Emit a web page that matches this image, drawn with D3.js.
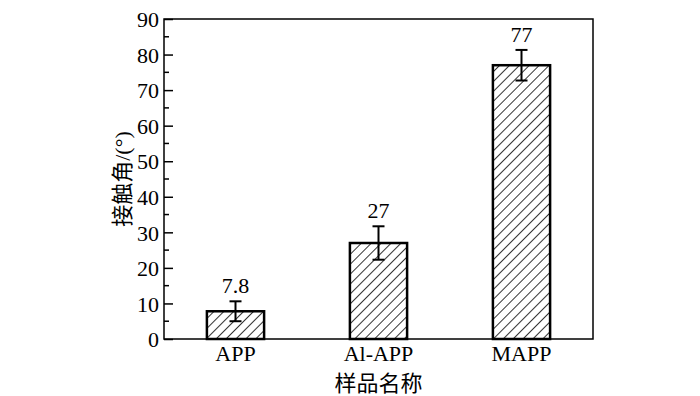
<!DOCTYPE html>
<html>
<head>
<meta charset="utf-8">
<script src="https://cdn.jsdelivr.net/npm/d3@7"></script>
<style>
  body { margin: 0; background: #fff; }
  svg text { font-family: "Liberation Serif", "DejaVu Serif", serif !important; fill: #000; }
  svg text.cjk, svg tspan.cjk { font-family: "Noto Sans CJK SC", sans-serif !important; }
</style>
</head>
<body>
<div id="chart"></div>
<script>
var categories = ["APP", "Al-APP", "MAPP"];
var values = [7.8, 27, 77];
var errors = [2.8, 4.7, 4.3];
var valueLabels = ["7.8", "27", "77"];
var yTicks = [0, 10, 20, 30, 40, 50, 60, 70, 80, 90];

var width = 700, height = 396;
var margin = {top: 19, right: 107, bottom: 57, left: 164};

var svg = d3.select("#chart").append("svg")
    .attr("width", width)
    .attr("height", height);

// hatch pattern for the bars
var defs = svg.append("defs");
defs.append("pattern")
    .attr("id", "hatch")
    .attr("patternUnits", "userSpaceOnUse")
    .attr("width", 7)
    .attr("height", 7)
    .attr("patternTransform", "rotate(45)")
  .append("line")
    .attr("x1", 0).attr("y1", 0)
    .attr("x2", 0).attr("y2", 7)
    .attr("stroke", "#000")
    .attr("stroke-width", 1.6);

var x = d3.scaleBand()
    .domain(categories)
    .range([margin.left, width - margin.right])
    .paddingInner(0.6)
    .paddingOuter(0.3);

var y = d3.scaleLinear()
    .domain([0, 90])
    .range([height - margin.bottom, margin.top]);

var g = svg.append("g");

// bars
g.selectAll("rect.bar")
    .data(values)
  .enter().append("rect")
    .attr("class", "bar")
    .attr("x", function(d, i) { return x(categories[i]); })
    .attr("y", function(d) { return y(d); })
    .attr("width", x.bandwidth())
    .attr("height", function(d) { return y(0) - y(d); })
    .attr("fill", "url(#hatch)")
    .attr("stroke", "#000")
    .attr("stroke-width", 2.5);

// error bars
var cx = function(i) { return x(categories[i]) + x.bandwidth() / 2; };
var eb = g.selectAll("g.err")
    .data(values)
  .enter().append("g")
    .attr("class", "err")
    .attr("stroke", "#000")
    .attr("stroke-width", 2);
eb.append("line")
    .attr("x1", function(d, i) { return cx(i); })
    .attr("x2", function(d, i) { return cx(i); })
    .attr("y1", function(d, i) { return y(d + errors[i]); })
    .attr("y2", function(d, i) { return y(d - errors[i]); });
eb.append("line")
    .attr("x1", function(d, i) { return cx(i) - 6; })
    .attr("x2", function(d, i) { return cx(i) + 6; })
    .attr("y1", function(d, i) { return y(d + errors[i]); })
    .attr("y2", function(d, i) { return y(d + errors[i]); });
eb.append("line")
    .attr("x1", function(d, i) { return cx(i) - 6; })
    .attr("x2", function(d, i) { return cx(i) + 6; })
    .attr("y1", function(d, i) { return y(d - errors[i]); })
    .attr("y2", function(d, i) { return y(d - errors[i]); });

// value labels
g.selectAll("text.val")
    .data(values)
  .enter().append("text")
    .attr("class", "val")
    .attr("x", function(d, i) { return cx(i); })
    .attr("y", function(d, i) { return y(d + errors[i]) - 8; })
    .attr("text-anchor", "middle")
    .attr("font-size", 22)
    .text(function(d, i) { return valueLabels[i]; });

// frame
svg.append("rect")
    .attr("x", margin.left)
    .attr("y", margin.top)
    .attr("width", width - margin.left - margin.right)
    .attr("height", height - margin.top - margin.bottom)
    .attr("fill", "none")
    .attr("stroke", "#000")
    .attr("stroke-width", 1.5);

// y axis, ticks inside
var yAxis = svg.append("g")
    .attr("transform", "translate(" + margin.left + ",0)")
    .call(d3.axisLeft(y).tickValues(yTicks).tickSize(-9).tickPadding(5));
yAxis.select(".domain").remove();
yAxis.selectAll(".tick line").attr("stroke-width", 1.5);
yAxis.selectAll(".tick text")
    .attr("font-size", 22)
    .attr("dy", "0.35em");

// minor ticks
var minor = d3.range(5, 90, 10);
svg.append("g").selectAll("line")
    .data(minor)
  .enter().append("line")
    .attr("x1", margin.left)
    .attr("x2", margin.left + 5)
    .attr("y1", function(d) { return y(d); })
    .attr("y2", function(d) { return y(d); })
    .attr("stroke", "#000")
    .attr("stroke-width", 1.5);

// x axis labels
var xAxis = svg.append("g")
    .attr("transform", "translate(0," + (height - margin.bottom) + ")")
    .call(d3.axisBottom(x).tickSize(0).tickPadding(6));
xAxis.select(".domain").remove();
xAxis.selectAll(".tick text")
    .attr("font-size", 22);

// axis titles
svg.append("text")
    .attr("class", "cjk")
    .attr("x", x("Al-APP") + x.bandwidth() / 2)
    .attr("y", 391)
    .attr("text-anchor", "middle")
    .attr("font-size", 22)
    .text("样品名称");

svg.append("text")
    .attr("transform", "translate(130," + y(45) + ") rotate(-90)")
    .attr("text-anchor", "middle")
    .attr("font-size", 22)
    .html('<tspan class="cjk">接触角</tspan>/(°)');
</script>
</body>
</html>
